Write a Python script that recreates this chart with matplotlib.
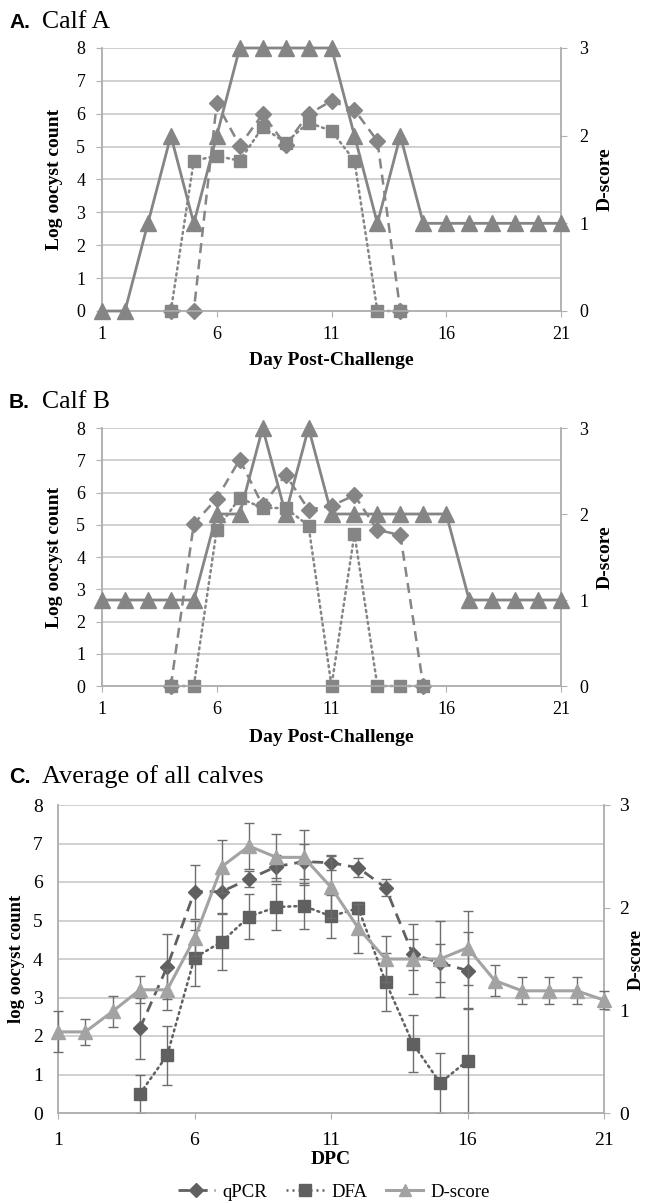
import matplotlib
matplotlib.use("Agg")
import matplotlib.pyplot as plt
from matplotlib.lines import Line2D

plt.rcParams["font.family"] = ["Liberation Serif", "DejaVu Serif"]

# ---- data -------------------------------------------------------------
days = list(range(1, 22))

# Calf A
a_dscore = [0, 0, 1, 2, 1, 2, 3, 3, 3, 3, 3, 2, 1, 2, 1, 1, 1, 1, 1, 1, 1]
a_qpcr_days = [4, 5, 6, 7, 8, 9, 10, 11, 12, 13, 14]
a_qpcr = [0, 0, 6.32, 5.03, 5.99, 5.05, 5.99, 6.39, 6.12, 5.17, 0]
a_dfa_days = [4, 5, 6, 7, 8, 9, 10, 11, 12, 13, 14]
a_dfa = [0, 4.57, 4.72, 4.57, 5.59, 5.12, 5.73, 5.48, 4.57, 0, 0]

# Calf B
b_dscore = [1, 1, 1, 1, 1, 2, 2, 3, 2, 3, 2, 2, 2, 2, 2, 2, 1, 1, 1, 1, 1]
b_qpcr_days = [4, 5, 6, 7, 8, 9, 10, 11, 12, 13, 14, 15]
b_qpcr = [0, 5.03, 5.81, 7.02, 5.6, 6.55, 5.47, 5.59, 5.91, 4.84, 4.68, 0]
b_dfa_days = [4, 5, 6, 7, 8, 9, 10, 11, 12, 13, 14, 15]
b_dfa = [0, 0, 4.85, 5.83, 5.52, 5.52, 4.97, 0, 4.72, 0, 0, 0]

# Average of all calves
c_dscore = [0.79, 0.79, 0.99, 1.2, 1.2, 1.7, 2.4, 2.6, 2.49, 2.49, 2.2, 1.8,
            1.5, 1.5, 1.5, 1.61, 1.29, 1.19, 1.19, 1.19, 1.1]
c_dscore_err = [0.2, 0.13, 0.15, 0.13, 0.2, 0.17, 0.26, 0.22, 0.23, 0.27, 0.3,
                0.24, 0.22, 0.34, 0.37, 0.36, 0.15, 0.13, 0.13, 0.13, 0.09]
c_days = [4, 5, 6, 7, 8, 9, 10, 11, 12, 13, 14, 15, 16]
c_qpcr = [2.2, 3.8, 5.75, 5.75, 6.08, 6.4, 6.53, 6.5, 6.37, 5.85, 4.12, 3.9, 3.7]
c_qpcr_err = [0.8, 0.85, 0.7, 0.55, 0.2, 0.3, 0.45, 0.2, 0.25, 0.22, 0.4, 0.5, 1.0]
c_dfa = [0.5, 1.5, 4.03, 4.45, 5.1, 5.35, 5.38, 5.11, 5.32, 3.41, 1.8, 0.78, 1.36]
c_dfa_err = [0.5, 0.76, 0.72, 0.73, 0.58, 0.6, 0.6, 0.56, 0.15, 0.75, 0.74, 0.78, 1.37]

xticks = [1, 6, 11, 16, 21]

AX_GRAY = "#b0b0b0"
GRID_GRAY = "#c4c4c4"
MARK_GRAY = "#858585"
DARK_GRAY = "#606060"
LIGHT_GRAY = "#a3a3a3"
ERR_GRAY = "#6e6e6e"
DASH = (0, (4, 2.5))
DOT = (0, (0.8, 1.6))

W, H = 647, 1203
fig = plt.figure(figsize=(W / 100, H / 100), dpi=100)


def px_axes(left, top, right, bottom):
    return fig.add_axes([left / W, 1 - bottom / H, (right - left) / W, (bottom - top) / H])


def style_axes(ax, ax2, fs, lpad, rpad, xpad, ltick):
    ax.set_xlim(1, 21)
    ax.set_ylim(0, 8)
    ax2.set_ylim(0, 3)
    ax.set_xticks(xticks)
    ax.set_yticks(range(0, 9))
    ax2.set_yticks([0, 1, 2, 3])
    ax.grid(axis="y", color=GRID_GRAY, lw=1.1)
    ax.set_axisbelow(True)
    for a in (ax, ax2):
        a.spines["top"].set_visible(False)
        for s in ("left", "right", "bottom"):
            a.spines[s].set_color(AX_GRAY)
            a.spines[s].set_linewidth(1.1)
    ax.tick_params(axis="y", length=ltick, color=AX_GRAY, pad=lpad, labelsize=fs)
    ax.tick_params(axis="x", length=4, color=AX_GRAY, pad=xpad, labelsize=fs)
    ax2.tick_params(axis="y", length=4, color=AX_GRAY, pad=rpad, labelsize=fs)
    ax2.set_zorder(ax.get_zorder() + 1)
    ax2.patch.set_visible(False)


def title(y, letter, text, size):
    fig.text(9 / W, 1 - y / H, letter, family="Liberation Sans", weight="bold",
             fontsize=size - 3.5, va="baseline")
    fig.text(42 / W, 1 - y / H, text, fontsize=size, va="baseline")


def calf_panel(top, bottom, dscore, qd, qv, fd, fv, xlabel_y):
    ax = px_axes(102, top, 561, bottom)
    ax2 = ax.twinx()
    style_axes(ax, ax2, 13, 8, 9, 7, 4)
    ax.plot(qd, qv, color=MARK_GRAY, lw=1.8, ls=DASH, marker="D", ms=8,
            clip_on=False, zorder=3)
    ax.plot(fd, fv, color=MARK_GRAY, lw=1.8, ls=DOT, dash_capstyle="round",
            marker="s", ms=9, clip_on=False, zorder=3)
    ax2.plot(days, dscore, color=MARK_GRAY, lw=2.0, marker="^", ms=11,
             clip_on=False, zorder=3)
    ax.set_ylabel("Log oocyst count", weight="bold", fontsize=14, va="center")
    ax.yaxis.set_label_coords(-0.103, 0.5)
    ax2.set_ylabel("D-score", weight="bold", fontsize=14, va="center")
    ax2.yaxis.set_label_coords(1.097, 0.5)
    ax.set_xlabel("Day Post-Challenge", weight="bold", fontsize=14, va="center")
    ax.xaxis.set_label_coords(0.5, -(xlabel_y - bottom) / (bottom - top))
    return ax, ax2


# ---- panel A -----------------------------------------------------------
title(28, "A.", "Calf A", 18.5)
axA, axA2 = calf_panel(48, 311, a_dscore, a_qpcr_days, a_qpcr, a_dfa_days, a_dfa, 361)

# ---- panel B -----------------------------------------------------------
title(408, "B.", "Calf B", 18.5)
axB, axB2 = calf_panel(428, 686, b_dscore, b_qpcr_days, b_qpcr, b_dfa_days, b_dfa, 737)

# ---- panel C -----------------------------------------------------------
title(783, "C.", "Average of all calves", 19)
axC = px_axes(58, 805, 604, 1113)
axC2 = axC.twinx()
style_axes(axC, axC2, 14, 11, 7, 10, 0)

err_kw = dict(ecolor=ERR_GRAY, elinewidth=1.0, capsize=3.5, capthick=1.0)
axC.errorbar(c_days, c_qpcr, yerr=c_qpcr_err, color=DARK_GRAY, lw=2.0, ls=DASH,
             marker="D", ms=7.5, zorder=3, **err_kw)
axC.errorbar(c_days, c_dfa, yerr=c_dfa_err, color=DARK_GRAY, lw=1.8, ls=DOT,
             dash_capstyle="round", marker="s", ms=8.5, zorder=3, **err_kw)
axC2.errorbar(days, c_dscore, yerr=c_dscore_err, color=LIGHT_GRAY, lw=2.2,
              marker="^", ms=10, zorder=3, clip_on=False, **err_kw)

axC.set_ylabel("log oocyst count", weight="bold", fontsize=13.5, va="center")
axC.yaxis.set_label_coords(-41 / 546, 0.5)
axC2.set_ylabel("D-score", weight="bold", fontsize=13.5, va="center")
axC2.yaxis.set_label_coords(578 / 546, 0.5)
axC.set_xlabel("DPC", weight="bold", fontsize=14, va="center")
axC.xaxis.set_label_coords(0.5, -(1160 - 1113) / 308)

handles = [
    Line2D([], [], color=DARK_GRAY, lw=2.0, ls=DASH, marker="D", ms=7),
    Line2D([], [], color=DARK_GRAY, lw=1.8, ls=DOT, marker="s", ms=8),
    Line2D([], [], color=LIGHT_GRAY, lw=2.2, marker="^", ms=9),
]
fig.legend(handles, ["qPCR", "DFA", "D-score"], loc="center",
           bbox_to_anchor=(334 / W, 1 - 1192 / H), ncol=3, frameon=False,
           fontsize=13.5, handlelength=2.0, handletextpad=0.4, columnspacing=1.0)

fig.savefig("out.png", dpi=100)
